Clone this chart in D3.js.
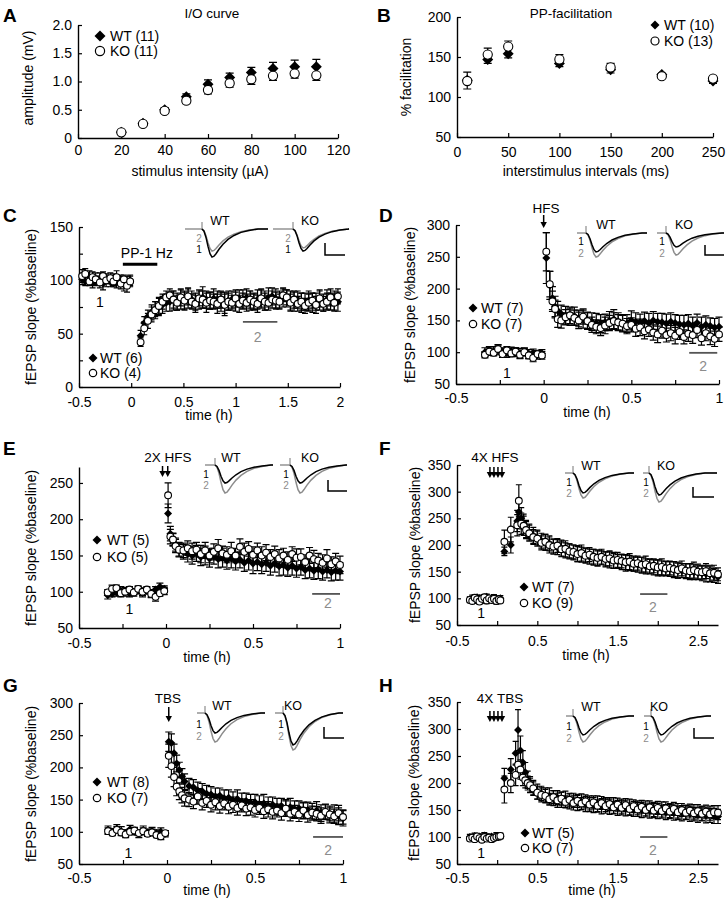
<!DOCTYPE html>
<html>
<head>
<meta charset="utf-8">
<script src="https://cdn.jsdelivr.net/npm/d3@7"></script>
<style>
  body { margin: 0; background: #fff; }
  svg { display: block; }
</style>
</head>
<body>
<script>
// ---------------- data ----------------
// A: input/output curve
var ioStim = [20, 30, 40, 50, 60, 70, 80, 90, 100, 110];
var ioWT = [0.10, 0.26, 0.50, 0.73, 0.95, 1.07, 1.16, 1.23, 1.26, 1.26];
var ioWTsem = [0.02, 0.03, 0.04, 0.05, 0.08, 0.08, 0.09, 0.11, 0.12, 0.13];
var ioKO = [0.10, 0.25, 0.48, 0.66, 0.85, 0.97, 1.04, 1.10, 1.14, 1.11];
var ioKOsem = [0.02, 0.03, 0.04, 0.05, 0.07, 0.07, 0.09, 0.08, 0.08, 0.09];

// B: paired-pulse facilitation
var ppIsi = [10, 30, 50, 100, 150, 200, 250];
var ppWT = [121, 147, 154, 142, 134, 128, 120];
var ppWTsem = [11, 5, 5, 4, 4, 3, 3];
var ppKO = [120, 153, 163, 147, 137, 126, 123];
var ppKOsem = [11, 8, 7, 6, 5, 3, 3];

// C: PP-1 Hz LTD
var timeC = [-0.47, -0.44, -0.40, -0.37, -0.34, -0.30, -0.27, -0.24, -0.20, -0.17, -0.14, -0.10, -0.07, -0.04, -0.01,
  0.09, 0.125, 0.16, 0.195, 0.23, 0.265, 0.30, 0.335, 0.37, 0.405, 0.44, 0.475, 0.51, 0.545, 0.58, 0.615, 0.65, 0.685,
  0.72, 0.755, 0.79, 0.825, 0.86, 0.895, 0.93, 0.965, 1.0, 1.035, 1.07, 1.105, 1.14, 1.175, 1.21, 1.245, 1.28, 1.315,
  1.35, 1.385, 1.42, 1.455, 1.49, 1.525, 1.56, 1.595, 1.63, 1.665, 1.70, 1.735, 1.77, 1.805, 1.84, 1.875, 1.91, 1.945, 1.98];
var wtC = [101, 99, 103, 98, 100, 102, 97, 101, 99, 100, 98, 101, 96, 99, 100,
  48, 60, 66, 70, 73, 75, 77, 79, 80, 81, 80, 82, 81, 83, 82, 80, 82, 84, 82, 81, 83, 82, 80, 79, 81, 82, 80, 83, 82, 84,
  81, 80, 82, 83, 81, 84, 85, 83, 82, 84, 83, 81, 80, 82, 79, 80, 81, 79, 80, 81, 79, 82, 80, 81, 80];
var wtCsem = [5, 4, 6, 5, 4, 5, 6, 4, 5, 6, 5, 4, 6, 5, 5,
  5, 6, 6, 7, 7, 8, 8, 8, 9, 9, 8, 9, 8, 9, 8, 8, 9, 10, 8, 8, 9, 8, 9, 10, 9, 8, 9, 8, 9, 8,
  9, 8, 9, 8, 9, 9, 8, 9, 8, 9, 8, 9, 9, 8, 9, 8, 9, 9, 8, 9, 8, 9, 8, 9, 9];
var koC = [104, 106, 99, 103, 101, 98, 104, 100, 102, 99, 103, 97, 101, 95, 99,
  42, 55, 62, 68, 72, 76, 80, 84, 86, 82, 79, 84, 81, 85, 80, 78, 83, 82, 79, 81, 80, 78, 82, 77, 80, 79, 83, 78, 81, 79,
  82, 80, 78, 83, 80, 79, 82, 81, 80, 86, 84, 79, 82, 78, 80, 76, 79, 81, 77, 83, 78, 80, 84, 79, 85];
var koCsem = [6, 5, 4, 5, 6, 5, 4, 6, 5, 4, 6, 5, 4, 6, 5,
  4, 6, 7, 7, 8, 8, 7, 6, 6, 8, 7, 8, 9, 8, 7, 8, 7, 8, 9, 8, 7, 9, 8, 10, 8, 7, 8, 8, 7, 8,
  8, 7, 8, 9, 8, 7, 8, 8, 7, 6, 7, 8, 8, 7, 8, 7, 8, 7, 8, 8, 7, 8, 8, 8, 7];

// D: HFS
var timeD = [-0.335, -0.31, -0.285, -0.26, -0.235, -0.21, -0.185, -0.16, -0.135, -0.11, -0.085, -0.06, -0.035, -0.01,
  0.015, 0.035, 0.05, 0.065, 0.08, 0.1, 0.125, 0.15, 0.175, 0.2, 0.225, 0.25, 0.275, 0.3, 0.325, 0.35, 0.375, 0.4,
  0.425, 0.45, 0.475, 0.5, 0.525, 0.55, 0.575, 0.6, 0.625, 0.65, 0.675, 0.7, 0.725, 0.75, 0.775, 0.8, 0.825, 0.85,
  0.875, 0.9, 0.925, 0.95, 0.975, 1.0];
var wtD = [100, 103, 102, 104, 101, 99, 102, 100, 98, 101, 97, 99, 96, 98,
  248, 205, 185, 172, 165, 160, 158, 155, 157, 153, 152, 150, 148, 146, 145, 147, 150, 152, 148, 146,
  145, 150, 148, 147, 149, 146, 150, 148, 147, 145, 148, 146, 144, 143, 145, 142, 146, 140, 143, 141, 139, 140];
var wtDsem = [7, 6, 7, 8, 6, 7, 6, 7, 8, 6, 7, 6, 7, 6,
  40, 22, 18, 16, 15, 14, 14, 13, 14, 13, 14, 13, 14, 15, 14, 13, 14, 15, 14, 13,
  14, 15, 14, 13, 14, 15, 14, 13, 14, 15, 14, 13, 14, 15, 14, 13, 14, 15, 14, 13, 14, 15];
var koD = [96, 101, 99, 105, 97, 103, 98, 101, 96, 100, 95, 91, 97, 95,
  258, 207, 180, 168, 152, 150, 155, 158, 154, 150, 156, 149, 143, 140, 138, 142, 146, 149, 147, 145,
  141, 143, 137, 139, 133, 136, 131, 128, 134, 127, 130, 126, 132, 124, 129, 127, 135, 122, 130, 125, 121, 128];
var koDsem = [5, 6, 5, 6, 5, 6, 5, 6, 5, 6, 5, 6, 5, 6,
  30, 20, 16, 14, 13, 12, 12, 13, 12, 13, 12, 13, 12, 11, 12, 13, 12, 13, 12, 13,
  12, 11, 12, 13, 12, 11, 12, 13, 12, 11, 12, 13, 12, 11, 12, 13, 12, 11, 12, 13, 12, 11];

// E: 2X HFS
var timeE = [-0.335, -0.31, -0.285, -0.26, -0.235, -0.21, -0.185, -0.16, -0.135, -0.11, -0.085, -0.06, -0.035, -0.01,
  0.012, 0.025, 0.04, 0.055, 0.075, 0.1, 0.125, 0.15, 0.175, 0.2, 0.225, 0.25, 0.275, 0.3, 0.325, 0.35, 0.375, 0.4,
  0.425, 0.45, 0.475, 0.5, 0.525, 0.55, 0.575, 0.6, 0.625, 0.65, 0.675, 0.7, 0.725, 0.75, 0.775, 0.8, 0.825, 0.85,
  0.875, 0.9, 0.925, 0.95, 0.975, 1.0];
var wtE = [95, 97, 99, 101, 100, 98, 100, 102, 99, 101, 98, 103, 107, 104,
  208, 180, 172, 165, 158, 155, 152, 150, 153, 148, 150, 146, 149, 145, 147, 143, 146, 142, 144, 140,
  143, 139, 141, 138, 140, 136, 139, 135, 137, 133, 136, 132, 134, 130, 132, 129, 131, 128, 130, 127, 129, 128];
var wtEsem = [5, 4, 5, 6, 4, 5, 4, 5, 6, 4, 5, 4, 5, 4,
  13, 10, 9, 9, 10, 10, 11, 12, 11, 12, 13, 12, 11, 12, 13, 12, 13, 12, 11, 12,
  13, 14, 12, 13, 12, 13, 12, 13, 14, 12, 13, 12, 11, 12, 13, 12, 13, 12, 11, 12, 13, 12];
var koE = [99, 104, 105, 98, 100, 103, 99, 104, 100, 103, 97, 93, 98, 101,
  233, 176, 172, 163, 158, 157, 160, 156, 158, 152, 157, 150, 155, 160, 153, 151, 156, 150, 162, 155,
  159, 151, 157, 150, 154, 148, 152, 146, 150, 144, 152, 147, 148, 141, 150, 145, 143, 140, 146, 138, 142, 137];
var koEsem = [4, 5, 4, 5, 6, 4, 5, 4, 5, 4, 5, 6, 4, 5,
  17, 10, 8, 9, 9, 10, 10, 11, 10, 12, 11, 10, 11, 12, 10, 11, 12, 10, 11, 12,
  10, 11, 10, 12, 11, 10, 11, 12, 10, 11, 10, 12, 11, 10, 11, 12, 10, 11, 12, 10, 11, 12];

// F: 4X HFS
var timeF = [-0.34, -0.31, -0.28, -0.25, -0.22, -0.19, -0.16, -0.13, -0.10, -0.07, -0.04, -0.01, 0.02, 0.04,
  0.09, 0.17, 0.25, 0.27, 0.30, 0.33, 0.36, 0.40, 0.45, 0.5, 0.55, 0.6, 0.65, 0.7, 0.75, 0.8, 0.85, 0.9, 0.95, 1.0,
  1.05, 1.1, 1.15, 1.2, 1.25, 1.3, 1.35, 1.4, 1.45, 1.5, 1.55, 1.6, 1.65, 1.7, 1.75, 1.8, 1.85, 1.9, 1.95, 2.0,
  2.05, 2.1, 2.15, 2.2, 2.25, 2.3, 2.35, 2.4, 2.45, 2.5, 2.55, 2.6, 2.65, 2.7, 2.75];
var wtF = [98, 100, 96, 102, 99, 101, 97, 103, 100, 98, 101, 99, 97, 100,
  188, 200, 245, 262, 250, 240, 230, 224, 218, 214, 208, 205, 203, 198, 196, 194, 190, 189, 186, 184,
  182, 181, 178, 177, 175, 176, 173, 172, 170, 169, 168, 166, 166, 164, 163, 162, 160, 160, 158, 157,
  156, 156, 155, 154, 152, 152, 151, 150, 149, 148, 147, 146, 145, 143, 140];
var wtFsem = [5, 6, 5, 4, 6, 5, 6, 5, 4, 5, 6, 5, 4, 5,
  8, 15, 20, 22, 20, 18, 16, 15, 15, 14, 14, 15, 14, 13, 14, 15, 14, 13, 14, 15,
  14, 13, 14, 15, 14, 13, 14, 15, 14, 13, 14, 15, 14, 13, 14, 15, 14, 13, 14, 15,
  14, 13, 14, 15, 14, 13, 14, 15, 14, 13, 14, 15, 14, 13, 12];
var koF = [97, 95, 101, 98, 94, 99, 102, 96, 100, 97, 99, 95, 98, 96,
  206, 229, 237, 283, 240, 236, 228, 222, 215, 212, 204, 206, 200, 197, 199, 192, 193, 188, 187, 183,
  185, 180, 182, 178, 176, 178, 174, 175, 171, 172, 170, 168, 169, 165, 166, 163, 164, 160, 161, 158,
  159, 156, 157, 155, 153, 156, 152, 151, 153, 150, 149, 151, 147, 148, 145];
var koFsem = [5, 4, 5, 6, 5, 4, 5, 6, 5, 4, 5, 6, 5, 4,
  22, 23, 20, 30, 20, 18, 16, 15, 14, 14, 13, 14, 15, 14, 13, 14, 15, 14, 13, 14,
  15, 14, 13, 14, 15, 14, 13, 14, 15, 14, 13, 14, 15, 14, 13, 14, 15, 14, 13, 14,
  15, 14, 13, 14, 15, 14, 13, 14, 15, 14, 13, 14, 15, 14, 12];

// G: TBS
var timeG = [-0.335, -0.31, -0.285, -0.26, -0.235, -0.21, -0.185, -0.16, -0.135, -0.11, -0.085, -0.06, -0.035, -0.01,
  0.01, 0.025, 0.04, 0.055, 0.07, 0.085, 0.1, 0.125, 0.15, 0.175, 0.2, 0.225, 0.25, 0.275, 0.3, 0.325, 0.35, 0.375,
  0.4, 0.425, 0.45, 0.475, 0.5, 0.525, 0.55, 0.575, 0.6, 0.625, 0.65, 0.675, 0.7, 0.725, 0.75, 0.775, 0.8, 0.825,
  0.85, 0.875, 0.9, 0.925, 0.95, 0.975, 1.0];
var wtG = [103, 100, 105, 101, 98, 104, 100, 97, 102, 99, 101, 98, 100, 97,
  240, 238, 222, 206, 196, 186, 178, 171, 169, 164, 163, 159, 158, 155, 156, 152, 153, 149, 151, 147,
  148, 145, 146, 143, 144, 141, 142, 139, 140, 137, 138, 135, 136, 133, 134, 131, 133, 129, 131, 127, 128, 124, 121];
var wtGsem = [6, 5, 6, 7, 5, 6, 5, 6, 7, 5, 6, 5, 6, 5,
  15, 14, 14, 13, 12, 12, 12, 12, 12, 13, 12, 13, 12, 13, 12, 13, 12, 13, 14, 13,
  12, 13, 12, 13, 14, 13, 12, 13, 12, 13, 14, 13, 12, 13, 12, 13, 14, 13, 12, 13, 14, 13, 12];
var koG = [101, 98, 103, 99, 96, 100, 102, 98, 101, 97, 99, 95, 93, 98,
  218, 202, 185, 170, 163, 157, 152, 150, 147, 155, 145, 148, 142, 146, 140, 144, 139, 142, 137, 141,
  136, 138, 134, 137, 132, 135, 131, 133, 129, 136, 128, 131, 127, 133, 126, 130, 128, 125, 131, 127, 124, 129, 123];
var koGsem = [5, 4, 5, 4, 5, 4, 5, 4, 5, 4, 5, 4, 5, 4,
  18, 17, 15, 14, 13, 12, 12, 11, 11, 12, 11, 10, 11, 12, 11, 10, 11, 12, 11, 10,
  11, 12, 11, 10, 11, 12, 11, 10, 11, 12, 11, 10, 11, 12, 11, 10, 11, 12, 11, 10, 11, 12, 11];

// H: 4X TBS
var timeH = [-0.34, -0.31, -0.28, -0.25, -0.22, -0.19, -0.16, -0.13, -0.10, -0.07, -0.04, -0.01, 0.02, 0.04,
  0.09, 0.17, 0.23, 0.26, 0.29, 0.32, 0.35, 0.38, 0.41, 0.45, 0.5, 0.55, 0.6, 0.65, 0.7, 0.75, 0.8, 0.85, 0.9, 0.95,
  1.0, 1.05, 1.1, 1.15, 1.2, 1.25, 1.3, 1.35, 1.4, 1.45, 1.5, 1.55, 1.6, 1.65, 1.7, 1.75, 1.8, 1.85, 1.9, 1.95,
  2.0, 2.05, 2.1, 2.15, 2.2, 2.25, 2.3, 2.35, 2.4, 2.45, 2.5, 2.55, 2.6, 2.65, 2.7, 2.75];
var wtH = [100, 98, 102, 99, 101, 97, 103, 100, 98, 101, 99, 102, 100, 101,
  209, 225, 255, 298, 260, 238, 220, 206, 197, 191, 184, 181, 177, 176, 172, 173, 169, 170, 166, 168,
  163, 165, 161, 163, 159, 161, 157, 160, 156, 158, 154, 157, 153, 155, 152, 154, 150, 152, 149, 151,
  148, 150, 146, 149, 145, 147, 144, 146, 143, 145, 141, 144, 140, 142, 139, 138];
var wtHsem = [5, 4, 5, 6, 5, 4, 5, 6, 5, 4, 5, 6, 5, 4,
  18, 20, 22, 38, 27, 22, 18, 16, 15, 14, 14, 13, 14, 15, 14, 13, 14, 15, 14, 13,
  14, 15, 14, 13, 14, 15, 14, 13, 14, 15, 14, 13, 14, 15, 14, 13, 14, 15, 14, 13,
  14, 15, 14, 13, 14, 15, 14, 13, 14, 15, 14, 13, 14, 15, 14, 13];
var koH = [97, 99, 96, 101, 98, 95, 100, 97, 99, 96, 98, 100, 101, 102,
  188, 200, 215, 234, 225, 210, 205, 200, 196, 190, 182, 178, 176, 170, 174, 168, 171, 165, 169, 163,
  167, 162, 166, 160, 164, 158, 163, 157, 161, 155, 160, 154, 159, 152, 157, 151, 156, 150, 155, 149,
  154, 148, 153, 147, 152, 146, 150, 145, 149, 144, 148, 143, 147, 142, 146, 145];
var koHsem = [4, 5, 4, 5, 4, 5, 4, 5, 4, 5, 4, 5, 4, 5,
  25, 18, 20, 22, 18, 15, 14, 13, 13, 12, 12, 13, 12, 11, 12, 13, 12, 11, 12, 13,
  12, 11, 12, 13, 12, 11, 12, 13, 12, 11, 12, 13, 12, 11, 12, 13, 12, 11, 12, 13,
  12, 11, 12, 13, 12, 11, 12, 13, 12, 11, 12, 13, 12, 11, 12, 13];

// stimulation times (h)
var stimD = [0];
var stimE = [-0.02, 0.01];
var stimF = [-0.09, -0.04, 0.01, 0.06];
var stimG = [0.01];
var stimH = [-0.09, -0.04, 0.01, 0.06];

// inset fEPSP waveform (samples after the stimulus artifact) and trough amplitudes (mV): WT1, WT2, KO1, KO2
var traceT = [0, 2, 4, 6, 8, 10, 12, 14, 17, 21, 26, 32, 39, 47, 56];
var traceV = [0, -0.08, -0.3, -0.62, -0.88, -1, -0.97, -0.88, -0.72, -0.54, -0.37, -0.23, -0.12, -0.05, 0];
var ampsC = [1.17, 0.92, 0.92, 0.79];
var ampsD = [0.95, 1.2, 0.7, 1.1];
var ampsE = [0.82, 1.27, 0.82, 1.27];
var ampsF = [1.0, 1.25, 1.1, 1.45];
var ampsG = [0.91, 1.32, 1.45, 1.68];
var ampsH = [0.95, 1.3, 0.95, 1.3];

// ticks
var xTicksA = [0, 20, 40, 60, 80, 100, 120];
var yTicksA = [0, 0.5, 1, 1.5, 2];
var xTicksB = [0, 50, 100, 150, 200, 250];
var yTicksB = [50, 100, 150, 200];
var xTicksC = [-0.5, 0, 0.5, 1, 1.5, 2];
var yTicksC = [0, 25, 50, 75, 100, 125, 150];
var yLabelsC = [0, 50, 100, 150];
var xTicksShort = [-0.5, -0.25, 0, 0.25, 0.5, 0.75, 1];
var xLabelsShort = [-0.5, 0, 0.5, 1];
var xTicksLong = [-0.5, 0, 0.5, 1, 1.5, 2, 2.5];
var xLabelsLong = [-0.5, 0.5, 1.5, 2.5];
var yTicks300 = [50, 100, 150, 200, 250, 300];
var yTicks250 = [50, 100, 150, 200, 250];
var yTicks350 = [50, 100, 150, 200, 250, 300, 350];

// ---------------- drawing ----------------
var FONT = "'Liberation Sans', Arial, Helvetica, sans-serif";
var GRAY = "#8c8c8c";
var svg = d3.select("body").append("svg")
  .attr("width", 727).attr("height", 899)
  .style("font-family", FONT);
svg.append("rect").attr("width", 727).attr("height", 899).attr("fill", "#fff");

function isLabel(list, d) {
  return list.some(function (l) { return Math.abs(l - d) < 1e-6; });
}
function plainFmt(d) { return String(d); }
function diamondPath(r) {
  return "M0," + (-r) + "L" + r + ",0L0," + r + "L" + (-r) + ",0Z";
}

function drawPanel(p) {
  var x = d3.scaleLinear().domain(p.xDomain).range(p.xRange);
  var y = d3.scaleLinear().domain(p.yDomain).range(p.yRange);
  var g = svg.append("g");

  // axes, ticks pointing inward
  var xa = g.append("g")
    .attr("transform", "translate(0," + p.yRange[0] + ")")
    .call(d3.axisBottom(x).tickValues(p.xTicks).tickSize(-4).tickSizeOuter(0).tickPadding(p.xPad)
      .tickFormat(function (d) { return isLabel(p.xLabels, d) ? (p.xFmt || plainFmt)(d) : ""; }));
  var ya = g.append("g")
    .attr("transform", "translate(" + p.xRange[0] + ",0)")
    .call(d3.axisLeft(y).tickValues(p.yTicks).tickSize(-4).tickSizeOuter(0).tickPadding(6)
      .tickFormat(function (d) { return isLabel(p.yLabels, d) ? (p.yFmt || plainFmt)(d) : ""; }));
  [xa, ya].forEach(function (a) {
    a.attr("font-family", null).attr("font-size", 14);
    a.select(".domain").attr("stroke-width", 1.4);
    a.selectAll(".tick line").attr("stroke-width", 1.2);
    a.selectAll("text").attr("fill", "#000");
  });

  // axis titles
  g.append("text").attr("x", p.xTitle[0]).attr("y", p.xTitle[1])
    .attr("text-anchor", "middle").attr("font-size", 14).text(p.xTitle[2]);
  g.append("text")
    .attr("transform", "translate(" + p.yTitle[0] + "," + p.yTitle[1] + ")rotate(-90)")
    .attr("text-anchor", "middle").attr("dy", "0.35em").attr("font-size", 14).text(p.yTitle[2]);

  // series: error bars first, then diamonds (WT) and circles (KO)
  var series = [
    { v: p.wt, e: p.wtSem, dir: p.wtDir },
    { v: p.ko, e: p.koSem, dir: p.koDir }
  ];
  var cap = p.cap;
  series.forEach(function (s) {
    var rows = p.t.map(function (t, i) { return { t: t, v: s.v[i], e: s.e[i] || 0 }; })
      .filter(function (d) { return d.v != null && d.e > 0; });
    g.append("g").selectAll("path")
      .data(rows)
      .join("path")
      .attr("fill", "none").attr("stroke", "#000").attr("stroke-width", 1.2)
      .attr("d", function (d) {
        var hi = s.dir >= 0 ? d.v + d.e : d.v;
        var lo = s.dir <= 0 ? d.v - d.e : d.v;
        var px = x(d.t);
        var path = "M" + px + "," + y(lo) + "V" + y(hi);
        if (s.dir >= 0) path += "M" + (px - cap) + "," + y(hi) + "H" + (px + cap);
        if (s.dir <= 0) path += "M" + (px - cap) + "," + y(lo) + "H" + (px + cap);
        return path;
      });
  });
  var wtRows = p.t.map(function (t, i) { return { t: t, v: p.wt[i] }; }).filter(function (d) { return d.v != null; });
  var koRows = p.t.map(function (t, i) { return { t: t, v: p.ko[i] }; }).filter(function (d) { return d.v != null; });
  g.append("g").selectAll("path")
    .data(wtRows)
    .join("path")
    .attr("d", diamondPath(p.rD))
    .attr("transform", function (d) { return "translate(" + x(d.t) + "," + y(d.v) + ")"; })
    .attr("fill", "#000");
  g.append("g").selectAll("circle")
    .data(koRows)
    .join("circle")
    .attr("cx", function (d) { return x(d.t); })
    .attr("cy", function (d) { return y(d.v); })
    .attr("r", p.rC)
    .attr("fill", "#fff").attr("stroke", "#000").attr("stroke-width", 1.1);

  // legend
  var L = p.legend;
  g.append("path").attr("d", diamondPath(L.rD))
    .attr("transform", "translate(" + L.mx + "," + L.y1 + ")").attr("fill", "#000");
  g.append("circle").attr("cx", L.mx).attr("cy", L.y2).attr("r", L.rC)
    .attr("fill", "#fff").attr("stroke", "#000").attr("stroke-width", 1.2);
  g.selectAll("text.leg")
    .data([[L.labels[0], L.y1], [L.labels[1], L.y2]])
    .join("text")
    .attr("class", "leg")
    .attr("x", L.tx).attr("y", function (d) { return d[1] + 5; })
    .attr("font-size", 14).text(function (d) { return d[0]; });

  // panel letter and title
  g.append("text").attr("x", p.letter[0]).attr("y", p.letter[1])
    .attr("font-size", 19).attr("font-weight", "bold").text(p.id);
  if (p.title) {
    g.append("text").attr("x", p.title[0]).attr("y", p.title[1])
      .attr("text-anchor", "middle").attr("font-size", 13.5).text(p.title[2]);
  }

  // "1" and "2" analysis windows
  if (p.ann) {
    g.append("text").attr("x", x(p.ann.one[0])).attr("y", y(p.ann.one[1]))
      .attr("text-anchor", "middle").attr("font-size", 14).text("1");
    g.append("line")
      .attr("x1", x(p.ann.bar2[0])).attr("x2", x(p.ann.bar2[1]))
      .attr("y1", y(p.ann.bar2[2])).attr("y2", y(p.ann.bar2[2]))
      .attr("stroke", "#555").attr("stroke-width", 1.8);
    g.append("text").attr("x", x(p.ann.two[0])).attr("y", y(p.ann.two[1]))
      .attr("text-anchor", "middle").attr("font-size", 14).attr("fill", GRAY).text("2");
  }

  // conditioning: PP-1 Hz bar
  if (p.ppBar) {
    g.append("line")
      .attr("x1", x(p.ppBar.t0)).attr("x2", x(p.ppBar.t1))
      .attr("y1", y(p.ppBar.v)).attr("y2", y(p.ppBar.v))
      .attr("stroke", "#000").attr("stroke-width", 3);
    g.append("text").attr("x", x(p.ppBar.lt)).attr("y", y(p.ppBar.lv))
      .attr("text-anchor", "middle").attr("font-size", 14).text(p.ppBar.label);
  }

  // conditioning: arrows
  if (p.stim) {
    var S = p.stim;
    g.append("text").attr("x", S.lx).attr("y", S.ly)
      .attr("text-anchor", "middle").attr("font-size", 13.5).text(S.label);
    var ag = g.append("g").selectAll("g")
      .data(S.times)
      .join("g")
      .attr("transform", function (d) { return "translate(" + x(d) + ",0)"; });
    ag.append("line").attr("x1", 0).attr("x2", 0).attr("y1", S.y0).attr("y2", S.y1 - 5)
      .attr("stroke", "#000").attr("stroke-width", 1.5);
    ag.append("path")
      .attr("d", "M-3.2," + (S.y1 - 6) + "L3.2," + (S.y1 - 6) + "L0," + S.y1 + "Z")
      .attr("fill", "#000");
  }

  if (p.inset) drawInset(p);
}

function drawInset(p) {
  var ins = p.inset;
  var barH = ins.bar[2] - ins.bar[1];
  var amp = d3.scaleLinear().domain([0, 0.5]).range([0, barH]);
  var line = d3.line();
  ["WT", "KO"].forEach(function (name, j) {
    var geo = ins.geo[j];
    var a1 = p.amps[j * 2], a2 = p.amps[j * 2 + 1];
    var wave = function (a) {
      return traceT.map(function (t, i) { return [geo[1] + t, ins.yBase - amp(a * traceV[i])]; })
        .concat([[geo[2], ins.yBase]]);
    };
    var g = svg.append("g");
    // gray baseline and stimulus artifact
    g.append("path").attr("d", line([[geo[0], ins.yBase], [geo[1], ins.yBase]]))
      .attr("fill", "none").attr("stroke", GRAY).attr("stroke-width", 1.4);
    g.append("path").attr("d", line([[geo[1], ins.yBase + 1], [geo[1], ins.yBase - 7]]))
      .attr("fill", "none").attr("stroke", GRAY).attr("stroke-width", 1.2);
    g.append("path").attr("d", line(wave(a2)))
      .attr("fill", "none").attr("stroke", GRAY).attr("stroke-width", 1.5);
    g.append("path").attr("d", line(wave(a1)))
      .attr("fill", "none").attr("stroke", "#000").attr("stroke-width", 1.5);
    g.append("text").attr("x", ins.titleX[j]).attr("y", ins.titleY)
      .attr("text-anchor", "middle").attr("font-size", 12.5).text(name);
    g.append("text").attr("x", ins.numX[j]).attr("y", ins.n1Y)
      .attr("text-anchor", "middle").attr("font-size", 10).text("1");
    g.append("text").attr("x", ins.numX[j]).attr("y", ins.n2Y)
      .attr("text-anchor", "middle").attr("font-size", 10).attr("fill", GRAY).text("2");
  });
  // scale bar
  svg.append("path")
    .attr("d", "M" + ins.bar[0] + "," + ins.bar[1] + "V" + ins.bar[2] + "H" + ins.bar[3])
    .attr("fill", "none").attr("stroke", "#000").attr("stroke-width", 1.5);
}

// ---------------- panels ----------------
drawPanel({
  id: "A", letter: [3, 22], title: [212, 18, "I/O curve"],
  t: ioStim, wt: ioWT, wtSem: ioWTsem, ko: ioKO, koSem: ioKOsem, wtDir: 1, koDir: -1,
  xDomain: [0, 120], xRange: [78, 338], yDomain: [0, 2], yRange: [138, 25],
  xTicks: xTicksA, xLabels: xTicksA, yTicks: yTicksA, yLabels: yTicksA, xPad: 7,
  yFmt: function (d) { return d === 0 ? "0" : d.toFixed(1); },
  xTitle: [200, 176, "stimulus intensity (\u00B5A)"], yTitle: [28, 78, "amplitude (mV)"],
  rD: 5.5, rC: 4.6, cap: 4,
  legend: { mx: 100, tx: 110, y1: 36, y2: 51, rD: 5.5, rC: 4.6, labels: ["WT (11)", "KO (11)"] }
});

drawPanel({
  id: "B", letter: [377, 22], title: [571, 18, "PP-facilitation"],
  t: ppIsi, wt: ppWT, wtSem: ppWTsem, ko: ppKO, koSem: ppKOsem, wtDir: -1, koDir: 1,
  xDomain: [0, 250], xRange: [457, 713], yDomain: [50, 200], yRange: [137, 17],
  xTicks: xTicksB, xLabels: xTicksB, yTicks: yTicksB, yLabels: yTicksB, xPad: 10,
  xTitle: [586, 176, "interstimulus intervals (ms)"], yTitle: [406, 77, "% facilitation"],
  rD: 5.5, rC: 4.6, cap: 4,
  legend: { mx: 655, tx: 664, y1: 25, y2: 41, rD: 4.5, rC: 4, labels: ["WT (10)", "KO (13)"] }
});

var fepsp = "fEPSP slope (%baseline)";

drawPanel({
  id: "C", letter: [3, 222],
  t: timeC, wt: wtC, wtSem: wtCsem, ko: koC, koSem: koCsem, wtDir: 0, koDir: 0,
  xDomain: [-0.5, 2], xRange: [79, 340], yDomain: [0, 150], yRange: [387, 227],
  xTicks: xTicksC, xLabels: xTicksC, yTicks: yTicksC, yLabels: yLabelsC, xPad: 10.5,
  xTitle: [209, 420, "time (h)"], yTitle: [31, 307, fepsp],
  rD: 4, rC: 3.4, cap: 3,
  legend: { mx: 93, tx: 100, y1: 358, y2: 373, rD: 4.5, rC: 3.7, labels: ["WT (6)", "KO (4)"] },
  ann: { one: [-0.3, 75], bar2: [1.07, 1.4, 61], two: [1.21, 42] },
  ppBar: { t0: -0.08, t1: 0.25, v: 115, lt: 0.15, lv: 121, label: "PP-1 Hz" },
  amps: ampsC,
  inset: { yBase: 229, geo: [[185, 202, 268], [273, 293, 348]], titleX: [220, 310], titleY: 225,
    numX: [199, 288], n1Y: 253, n2Y: 241.5, bar: [325, 243, 255, 345] }
});

drawPanel({
  id: "D", letter: [379, 222],
  t: timeD, wt: wtD, wtSem: wtDsem, ko: koD, koSem: koDsem, wtDir: 0, koDir: 0,
  xDomain: [-0.5, 1], xRange: [456, 719], yDomain: [50, 300], yRange: [384, 225],
  xTicks: xTicksShort, xLabels: xLabelsShort, yTicks: yTicks300, yLabels: yTicks300, xPad: 9,
  xTitle: [587, 417, "time (h)"], yTitle: [410, 305, fepsp],
  rD: 4, rC: 3.4, cap: 3.5,
  legend: { mx: 473, tx: 481, y1: 308, y2: 324, rD: 4.5, rC: 3.7, labels: ["WT (7)", "KO (7)"] },
  ann: { one: [-0.21, 59], bar2: [0.83, 0.99, 99], two: [0.91, 70] },
  stim: { times: stimD, label: "HFS", lx: 546, ly: 213, y0: 215, y1: 228 },
  amps: ampsD,
  inset: { yBase: 233, geo: [[577, 586, 647], [657, 666, 724]], titleX: [606, 684], titleY: 229,
    numX: [581, 662], n1Y: 245, n2Y: 256.5, bar: [705, 245, 255, 724] }
});

drawPanel({
  id: "E", letter: [3, 455],
  t: timeE, wt: wtE, wtSem: wtEsem, ko: koE, koSem: koEsem, wtDir: 0, koDir: 0,
  xDomain: [-0.5, 1], xRange: [79, 340], yDomain: [50, 272], yRange: [628, 467],
  xTicks: xTicksShort, xLabels: xLabelsShort, yTicks: yTicks250, yLabels: yTicks250, xPad: 10,
  xTitle: [207, 662, "time (h)"], yTitle: [31, 548, fepsp],
  rD: 4, rC: 3.4, cap: 3.5,
  legend: { mx: 97, tx: 107, y1: 540, y2: 557, rD: 4.5, rC: 3.7, labels: ["WT (5)", "KO (5)"] },
  ann: { one: [-0.21, 69], bar2: [0.84, 1.0, 97], two: [0.93, 78] },
  stim: { times: stimE, label: "2X HFS", lx: 168, ly: 462, y0: 466, y1: 477 },
  amps: ampsE,
  inset: { yBase: 465, geo: [[205, 215, 273], [280, 290, 347]], titleX: [231, 310], titleY: 462,
    numX: [206, 286], n1Y: 477.5, n2Y: 489, bar: [328, 480, 491, 347] }
});

drawPanel({
  id: "F", letter: [379, 455],
  t: timeF, wt: wtF, wtSem: wtFsem, ko: koF, koSem: koFsem, wtDir: 0, koDir: 0,
  xDomain: [-0.5, 2.75], xRange: [457, 718], yDomain: [50, 350], yRange: [625, 465],
  xTicks: xTicksLong, xLabels: xLabelsLong, yTicks: yTicks350, yLabels: yTicks350, xPad: 11,
  xTitle: [586, 660, "time (h)"], yTitle: [415, 545, fepsp],
  rD: 4, rC: 3.4, cap: 3,
  legend: { mx: 524, tx: 532, y1: 587, y2: 603, rD: 4.5, rC: 3.7, labels: ["WT (7)", "KO (9)"] },
  ann: { one: [-0.2, 63], bar2: [1.78, 2.12, 108], two: [1.94, 74] },
  stim: { times: stimF, label: "4X HFS", lx: 495, ly: 462, y0: 467, y1: 478 },
  amps: ampsF,
  inset: { yBase: 473, geo: [[565, 573, 634], [643, 649, 717]], titleX: [591, 666], titleY: 470,
    numX: [569, 646], n1Y: 485.5, n2Y: 497, bar: [693, 487, 497, 714] }
});

drawPanel({
  id: "G", letter: [3, 692],
  t: timeG, wt: wtG, wtSem: wtGsem, ko: koG, koSem: koGsem, wtDir: 0, koDir: 0,
  xDomain: [-0.5, 1], xRange: [79, 343], yDomain: [50, 300], yRange: [864, 703],
  xTicks: xTicksShort, xLabels: xLabelsShort, yTicks: yTicks300, yLabels: yTicks300, xPad: 9,
  xTitle: [207, 895, "time (h)"], yTitle: [31, 784, fepsp],
  rD: 4, rC: 3.4, cap: 3.5,
  legend: { mx: 97, tx: 107, y1: 782, y2: 798, rD: 4.5, rC: 3.7, labels: ["WT (8)", "KO (7)"] },
  ann: { one: [-0.22, 59], bar2: [0.83, 1.0, 92], two: [0.915, 64] },
  stim: { times: stimG, label: "TBS", lx: 168, ly: 703, y0: 707, y1: 722 },
  amps: ampsG,
  inset: { yBase: 713, geo: [[197, 205, 265], [275, 283, 343]], titleX: [222, 293], titleY: 710,
    numX: [199, 281], n1Y: 728, n2Y: 739.5, bar: [324, 727, 738, 344] }
});

drawPanel({
  id: "H", letter: [379, 692],
  t: timeH, wt: wtH, wtSem: wtHsem, ko: koH, koSem: koHsem, wtDir: 0, koDir: 0,
  xDomain: [-0.5, 2.75], xRange: [457, 718], yDomain: [50, 350], yRange: [864, 702],
  xTicks: xTicksLong, xLabels: xLabelsLong, yTicks: yTicks350, yLabels: yTicks350, xPad: 9,
  xTitle: [592, 895, "time (h)"], yTitle: [414, 783, fepsp],
  rD: 4, rC: 3.4, cap: 3,
  legend: { mx: 525, tx: 532, y1: 833, y2: 848, rD: 4.5, rC: 3.7, labels: ["WT (5)", "KO (7)"] },
  ann: { one: [-0.2, 61], bar2: [1.78, 2.12, 100], two: [1.94, 67] },
  stim: { times: stimH, label: "4X TBS", lx: 500, ly: 703, y0: 711, y1: 722 },
  amps: ampsH,
  inset: { yBase: 716, geo: [[566, 573, 634], [644, 651, 711]], titleX: [591, 659], titleY: 711,
    numX: [569, 646], n1Y: 730, n2Y: 741.5, bar: [694, 728, 738, 714] }
});
</script>
</body>
</html>
